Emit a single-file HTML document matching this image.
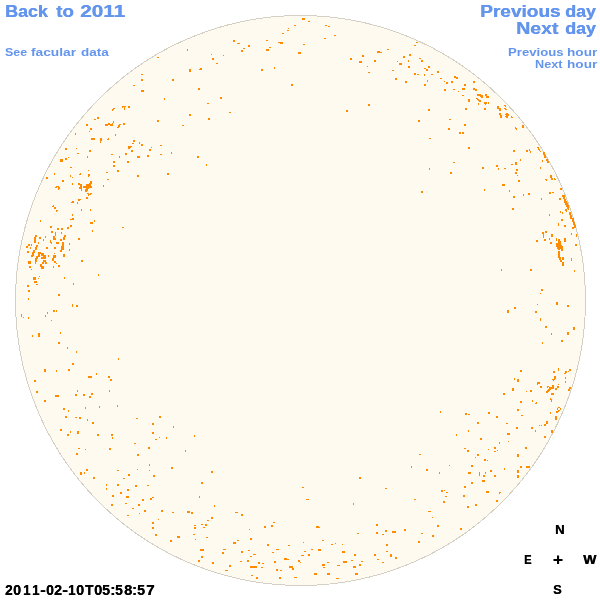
<!DOCTYPE html>
<html><head><meta charset="utf-8"><title>Faculae 2011-02-10T05:58:57</title>
<style>
html,body{margin:0;padding:0;background:#fff;}
body{width:600px;height:600px;position:relative;overflow:hidden;font-family:"Liberation Sans",sans-serif;font-weight:bold;}
svg{position:absolute;left:0;top:0;}
.t{position:absolute;white-space:nowrap;line-height:1;margin:0;padding:0;transform-origin:0 0;}
#txt{position:absolute;left:0;top:0;width:600px;height:600px;will-change:transform;}
.b{color:#6495ed;}
.L{text-shadow:0.4px 0 0 #6495ed;}
.k{color:#000;text-shadow:0.35px 0 0 #000;}
</style></head><body>
<svg width="600" height="600" viewBox="0 0 600 600">
<circle cx="300.5" cy="300.5" r="285" fill="#fefaef" stroke="#d4d0c6" stroke-width="1" shape-rendering="crispEdges"/>
<g fill="#ff8c00" shape-rendering="crispEdges">
<rect x="97" y="117" width="2" height="2"/><rect x="94" y="119" width="2" height="1"/><rect x="86" y="124" width="2" height="2"/><rect x="90" y="128" width="2" height="2"/><rect x="89" y="131" width="1" height="1"/><rect x="75" y="133" width="1" height="2"/><rect x="91" y="138" width="4" height="2"/><rect x="65" y="148" width="2" height="2"/>
<rect x="76" y="148" width="1" height="1"/><rect x="77" y="153" width="2" height="1"/><rect x="89" y="150" width="2" height="2"/><rect x="87" y="156" width="1" height="2"/><rect x="60" y="159" width="3" height="3"/><rect x="65" y="158" width="2" height="2"/><rect x="68" y="157" width="1" height="1"/><rect x="70" y="167" width="2" height="1"/>
<rect x="46" y="177" width="2" height="2"/><rect x="189" y="114" width="2" height="2"/><rect x="157" y="120" width="2" height="2"/><rect x="182" y="125" width="2" height="1"/><rect x="131" y="150" width="2" height="2"/><rect x="149" y="149" width="2" height="2"/><rect x="151" y="147" width="1" height="1"/><rect x="160" y="145" width="2" height="1"/>
<rect x="160" y="154" width="2" height="1"/><rect x="171" y="152" width="1" height="2"/><rect x="197" y="156" width="2" height="2"/><rect x="111" y="154" width="2" height="1"/><rect x="119" y="156" width="1" height="2"/><rect x="125" y="153" width="2" height="2"/><rect x="137" y="156" width="3" height="2"/><rect x="147" y="155" width="2" height="2"/>
<rect x="113" y="161" width="2" height="2"/><rect x="127" y="161" width="2" height="2"/><rect x="113" y="165" width="2" height="2"/><rect x="117" y="170" width="2" height="2"/><rect x="106" y="172" width="2" height="1"/><rect x="137" y="175" width="2" height="2"/><rect x="167" y="173" width="2" height="2"/><rect x="107" y="179" width="2" height="1"/>
<rect x="103" y="185" width="1" height="2"/><rect x="187" y="49" width="1" height="2"/><rect x="157" y="57" width="2" height="1"/><rect x="189" y="69" width="2" height="3"/><rect x="199" y="69" width="1" height="1"/><rect x="141" y="74" width="2" height="1"/><rect x="141" y="79" width="2" height="2"/><rect x="172" y="79" width="2" height="2"/>
<rect x="133" y="85" width="2" height="1"/><rect x="141" y="90" width="3" height="2"/><rect x="198" y="88" width="2" height="2"/><rect x="164" y="98" width="1" height="2"/><rect x="294" y="25" width="2" height="1"/><rect x="288" y="28" width="1" height="1"/><rect x="287" y="30" width="2" height="1"/><rect x="282" y="33" width="2" height="1"/>
<rect x="233" y="40" width="2" height="2"/><rect x="237" y="43" width="3" height="1"/><rect x="266" y="40" width="2" height="1"/><rect x="278" y="42" width="2" height="1"/><rect x="280" y="42" width="3" height="2"/><rect x="248" y="45" width="2" height="2"/><rect x="243" y="48" width="2" height="1"/><rect x="269" y="47" width="2" height="1"/>
<rect x="241" y="50" width="2" height="2"/><rect x="266" y="49" width="3" height="2"/><rect x="298" y="52" width="2" height="2"/><rect x="211" y="54" width="1" height="1"/><rect x="223" y="55" width="1" height="1"/><rect x="212" y="58" width="2" height="2"/><rect x="216" y="63" width="2" height="1"/><rect x="200" y="68" width="2" height="2"/>
<rect x="274" y="67" width="1" height="2"/><rect x="261" y="69" width="2" height="2"/><rect x="291" y="84" width="2" height="2"/><rect x="220" y="97" width="2" height="2"/><rect x="302" y="18" width="3" height="2"/><rect x="308" y="21" width="2" height="1"/><rect x="325" y="25" width="2" height="1"/><rect x="328" y="26" width="2" height="1"/>
<rect x="334" y="35" width="2" height="1"/><rect x="324" y="38" width="2" height="1"/><rect x="303" y="44" width="2" height="1"/><rect x="300" y="52" width="1" height="2"/><rect x="387" y="49" width="2" height="1"/><rect x="377" y="51" width="3" height="2"/><rect x="380" y="52" width="2" height="1"/><rect x="362" y="55" width="2" height="2"/>
<rect x="350" y="58" width="2" height="2"/><rect x="359" y="61" width="3" height="2"/><rect x="374" y="60" width="2" height="2"/><rect x="397" y="61" width="1" height="1"/><rect x="399" y="63" width="1" height="2"/><rect x="367" y="66" width="1" height="1"/><rect x="368" y="72" width="2" height="1"/><rect x="392" y="70" width="2" height="1"/>
<rect x="395" y="78" width="2" height="2"/><rect x="416" y="42" width="2" height="1"/><rect x="414" y="45" width="2" height="1"/><rect x="409" y="54" width="2" height="2"/><rect x="403" y="56" width="2" height="2"/><rect x="419" y="58" width="2" height="1"/><rect x="408" y="60" width="1" height="2"/><rect x="421" y="60" width="2" height="2"/>
<rect x="400" y="63" width="2" height="2"/><rect x="408" y="66" width="2" height="2"/><rect x="428" y="66" width="2" height="2"/><rect x="424" y="68" width="2" height="1"/><rect x="426" y="69" width="2" height="2"/><rect x="437" y="71" width="2" height="2"/><rect x="414" y="73" width="2" height="2"/><rect x="417" y="74" width="2" height="1"/>
<rect x="424" y="74" width="1" height="2"/><rect x="431" y="74" width="2" height="1"/><rect x="440" y="78" width="2" height="1"/><rect x="454" y="76" width="2" height="2"/><rect x="456" y="77" width="2" height="2"/><rect x="405" y="81" width="2" height="2"/><rect x="427" y="80" width="1" height="2"/><rect x="424" y="84" width="2" height="2"/>
<rect x="444" y="81" width="1" height="1"/><rect x="446" y="82" width="2" height="2"/><rect x="451" y="81" width="2" height="2"/><rect x="464" y="84" width="2" height="2"/><rect x="462" y="88" width="3" height="2"/><rect x="453" y="89" width="2" height="1"/><rect x="444" y="89" width="2" height="2"/><rect x="458" y="91" width="1" height="1"/>
<rect x="462" y="95" width="2" height="1"/><rect x="468" y="99" width="2" height="1"/><rect x="468" y="100" width="2" height="2"/><rect x="465" y="108" width="2" height="2"/><rect x="428" y="109" width="2" height="2"/><rect x="418" y="120" width="2" height="2"/><rect x="449" y="119" width="2" height="1"/><rect x="464" y="124" width="2" height="2"/>
<rect x="448" y="128" width="2" height="2"/><rect x="459" y="132" width="2" height="2"/><rect x="462" y="132" width="2" height="2"/><rect x="429" y="138" width="2" height="1"/><rect x="468" y="147" width="2" height="2"/><rect x="453" y="162" width="2" height="1"/><rect x="429" y="168" width="1" height="2"/><rect x="450" y="172" width="2" height="2"/>
<rect x="482" y="167" width="2" height="2"/><rect x="496" y="165" width="2" height="2"/><rect x="498" y="168" width="1" height="2"/><rect x="421" y="191" width="2" height="2"/><rect x="484" y="189" width="1" height="2"/><rect x="522" y="125" width="2" height="3"/><rect x="513" y="150" width="2" height="2"/><rect x="515" y="162" width="2" height="3"/>
<rect x="511" y="164" width="2" height="1"/><rect x="504" y="168" width="2" height="1"/><rect x="516" y="169" width="2" height="2"/><rect x="515" y="172" width="2" height="2"/><rect x="517" y="175" width="1" height="1"/><rect x="518" y="180" width="2" height="2"/><rect x="502" y="184" width="3" height="2"/><rect x="509" y="190" width="1" height="2"/>
<rect x="560" y="188" width="2" height="2"/><rect x="549" y="192" width="2" height="2"/><rect x="552" y="192" width="2" height="1"/><rect x="513" y="196" width="2" height="2"/><rect x="523" y="194" width="1" height="2"/><rect x="528" y="193" width="2" height="2"/><rect x="559" y="198" width="2" height="2"/><rect x="541" y="198" width="1" height="2"/>
<rect x="560" y="211" width="1" height="2"/><rect x="562" y="212" width="1" height="2"/><rect x="549" y="214" width="1" height="2"/><rect x="569" y="212" width="2" height="3"/><rect x="570" y="215" width="2" height="4"/><rect x="572" y="218" width="2" height="4"/><rect x="573" y="222" width="2" height="3"/><rect x="574" y="225" width="2" height="3"/>
<rect x="572" y="227" width="2" height="2"/><rect x="561" y="219" width="2" height="2"/><rect x="558" y="223" width="1" height="3"/><rect x="564" y="225" width="2" height="2"/><rect x="571" y="233" width="1" height="2"/><rect x="576" y="234" width="1" height="3"/><rect x="545" y="231" width="2" height="2"/><rect x="542" y="232" width="2" height="2"/>
<rect x="543" y="234" width="1" height="4"/><rect x="551" y="234" width="2" height="3"/><rect x="544" y="239" width="2" height="2"/><rect x="549" y="238" width="1" height="2"/><rect x="550" y="242" width="2" height="2"/><rect x="556" y="238" width="1" height="3"/><rect x="558" y="239" width="2" height="4"/><rect x="558" y="241" width="3" height="4"/>
<rect x="556" y="243" width="3" height="4"/><rect x="557" y="245" width="5" height="4"/><rect x="561" y="246" width="2" height="3"/><rect x="558" y="248" width="2" height="2"/><rect x="561" y="249" width="2" height="2"/><rect x="558" y="251" width="2" height="7"/><rect x="559" y="257" width="2" height="3"/><rect x="560" y="260" width="2" height="2"/>
<rect x="562" y="257" width="2" height="3"/><rect x="562" y="262" width="2" height="4"/><rect x="564" y="238" width="2" height="4"/><rect x="576" y="235" width="1" height="2"/><rect x="575" y="244" width="2" height="2"/><rect x="571" y="258" width="1" height="3"/><rect x="574" y="270" width="1" height="2"/><rect x="512" y="208" width="2" height="2"/>
<rect x="536" y="240" width="2" height="2"/><rect x="501" y="269" width="1" height="2"/><rect x="530" y="269" width="2" height="2"/><rect x="541" y="289" width="2" height="2"/><rect x="540" y="293" width="1" height="1"/><rect x="537" y="304" width="1" height="1"/><rect x="556" y="302" width="2" height="3"/><rect x="567" y="305" width="2" height="2"/>
<rect x="514" y="307" width="2" height="2"/><rect x="507" y="310" width="2" height="3"/><rect x="535" y="311" width="2" height="2"/><rect x="540" y="318" width="1" height="3"/><rect x="545" y="326" width="2" height="2"/><rect x="573" y="327" width="2" height="3"/><rect x="551" y="333" width="1" height="2"/><rect x="567" y="332" width="2" height="3"/>
<rect x="561" y="340" width="2" height="2"/><rect x="542" y="342" width="1" height="2"/><rect x="520" y="370" width="2" height="2"/><rect x="514" y="378" width="1" height="2"/><rect x="517" y="379" width="2" height="3"/><rect x="512" y="388" width="2" height="3"/><rect x="526" y="391" width="1" height="1"/><rect x="530" y="390" width="2" height="2"/>
<rect x="503" y="393" width="2" height="2"/><rect x="520" y="401" width="2" height="2"/><rect x="532" y="400" width="1" height="2"/><rect x="517" y="409" width="2" height="2"/><rect x="521" y="415" width="2" height="1"/><rect x="555" y="416" width="2" height="4"/><rect x="506" y="423" width="2" height="1"/><rect x="546" y="421" width="2" height="3"/>
<rect x="544" y="424" width="2" height="2"/><rect x="539" y="425" width="1" height="1"/><rect x="541" y="425" width="1" height="1"/><rect x="516" y="427" width="2" height="2"/><rect x="531" y="427" width="2" height="2"/><rect x="535" y="430" width="1" height="2"/><rect x="551" y="430" width="2" height="3"/><rect x="507" y="433" width="3" height="2"/>
<rect x="544" y="436" width="2" height="2"/><rect x="508" y="441" width="1" height="1"/><rect x="525" y="447" width="2" height="2"/><rect x="517" y="454" width="2" height="3"/><rect x="504" y="468" width="1" height="2"/><rect x="520" y="466" width="2" height="2"/><rect x="526" y="466" width="4" height="2"/><rect x="517" y="470" width="2" height="3"/>
<rect x="517" y="475" width="2" height="3"/><rect x="500" y="492" width="1" height="1"/><rect x="440" y="411" width="1" height="2"/><rect x="465" y="413" width="2" height="2"/><rect x="468" y="414" width="2" height="1"/><rect x="488" y="412" width="2" height="2"/><rect x="496" y="416" width="2" height="2"/><rect x="477" y="422" width="2" height="2"/>
<rect x="468" y="430" width="1" height="2"/><rect x="456" y="434" width="1" height="2"/><rect x="480" y="438" width="2" height="2"/><rect x="499" y="442" width="1" height="2"/><rect x="464" y="448" width="2" height="1"/><rect x="467" y="450" width="2" height="2"/><rect x="494" y="447" width="2" height="2"/><rect x="488" y="449" width="1" height="1"/>
<rect x="494" y="451" width="2" height="1"/><rect x="497" y="450" width="1" height="1"/><rect x="419" y="454" width="2" height="1"/><rect x="477" y="454" width="2" height="2"/><rect x="475" y="457" width="1" height="1"/><rect x="484" y="459" width="2" height="2"/><rect x="487" y="460" width="1" height="1"/><rect x="449" y="465" width="1" height="1"/>
<rect x="411" y="466" width="1" height="2"/><rect x="471" y="465" width="2" height="2"/><rect x="426" y="469" width="2" height="2"/><rect x="439" y="472" width="1" height="2"/><rect x="468" y="472" width="3" height="2"/><rect x="490" y="470" width="2" height="2"/><rect x="479" y="472" width="1" height="4"/><rect x="485" y="472" width="1" height="2"/>
<rect x="483" y="475" width="2" height="2"/><rect x="494" y="475" width="2" height="2"/><rect x="471" y="482" width="2" height="2"/><rect x="482" y="480" width="3" height="2"/><rect x="464" y="486" width="2" height="2"/><rect x="441" y="490" width="2" height="2"/><rect x="444" y="490" width="1" height="1"/><rect x="446" y="492" width="2" height="1"/>
<rect x="486" y="491" width="3" height="2"/><rect x="499" y="492" width="1" height="2"/><rect x="445" y="496" width="2" height="1"/><rect x="463" y="495" width="2" height="2"/><rect x="414" y="499" width="2" height="1"/><rect x="207" y="103" width="2" height="1"/><rect x="229" y="112" width="2" height="1"/><rect x="208" y="118" width="2" height="2"/>
<rect x="206" y="164" width="1" height="2"/><rect x="368" y="104" width="2" height="2"/><rect x="346" y="110" width="2" height="2"/><rect x="40" y="220" width="1" height="2"/><rect x="50" y="226" width="2" height="2"/><rect x="67" y="227" width="2" height="2"/><rect x="61" y="228" width="2" height="2"/><rect x="57" y="228" width="2" height="2"/>
<rect x="51" y="231" width="2" height="2"/><rect x="61" y="232" width="1" height="2"/><rect x="55" y="232" width="1" height="4"/><rect x="53" y="236" width="2" height="4"/><rect x="55" y="238" width="1" height="2"/><rect x="35" y="235" width="2" height="2"/><rect x="34" y="237" width="2" height="6"/><rect x="39" y="237" width="2" height="2"/>
<rect x="45" y="236" width="1" height="2"/><rect x="43" y="239" width="1" height="2"/><rect x="38" y="242" width="1" height="2"/><rect x="64" y="235" width="2" height="2"/><rect x="63" y="237" width="2" height="3"/><rect x="60" y="239" width="2" height="2"/><rect x="50" y="240" width="1" height="3"/><rect x="51" y="242" width="1" height="2"/>
<rect x="56" y="242" width="3" height="2"/><rect x="62" y="242" width="2" height="4"/><rect x="69" y="243" width="1" height="2"/><rect x="61" y="246" width="3" height="4"/><rect x="60" y="250" width="2" height="2"/><rect x="69" y="249" width="1" height="2"/><rect x="28" y="244" width="2" height="2"/><rect x="26" y="246" width="2" height="2"/>
<rect x="31" y="244" width="1" height="2"/><rect x="30" y="247" width="1" height="2"/><rect x="27" y="251" width="2" height="2"/><rect x="36" y="245" width="2" height="2"/><rect x="35" y="247" width="2" height="3"/><rect x="33" y="250" width="2" height="3"/><rect x="32" y="252" width="2" height="4"/><rect x="31" y="255" width="2" height="2"/>
<rect x="46" y="247" width="2" height="2"/><rect x="54" y="247" width="2" height="2"/><rect x="54" y="253" width="1" height="1"/><rect x="63" y="254" width="2" height="3"/><rect x="48" y="255" width="1" height="2"/><rect x="38" y="252" width="3" height="2"/><rect x="38" y="254" width="2" height="3"/><rect x="36" y="256" width="2" height="3"/>
<rect x="35" y="258" width="2" height="4"/><rect x="35" y="262" width="1" height="2"/><rect x="41" y="253" width="3" height="3"/><rect x="43" y="255" width="3" height="4"/><rect x="41" y="257" width="2" height="2"/><rect x="43" y="260" width="3" height="2"/><rect x="42" y="262" width="2" height="2"/><rect x="45" y="262" width="2" height="2"/>
<rect x="40" y="264" width="2" height="2"/><rect x="53" y="255" width="3" height="3"/><rect x="52" y="258" width="2" height="3"/><rect x="54" y="261" width="2" height="2"/><rect x="56" y="263" width="1" height="1"/><rect x="28" y="261" width="3" height="3"/><rect x="29" y="266" width="2" height="2"/><rect x="41" y="266" width="3" height="3"/>
<rect x="40" y="265" width="2" height="2"/><rect x="53" y="266" width="1" height="2"/><rect x="58" y="265" width="2" height="2"/><rect x="31" y="269" width="1" height="1"/><rect x="94" y="220" width="1" height="2"/><rect x="90" y="222" width="3" height="2"/><rect x="70" y="225" width="2" height="2"/><rect x="92" y="230" width="1" height="2"/>
<rect x="78" y="238" width="2" height="2"/><rect x="81" y="260" width="2" height="2"/><rect x="98" y="274" width="1" height="2"/><rect x="64" y="277" width="1" height="2"/><rect x="73" y="283" width="1" height="2"/><rect x="33" y="277" width="3" height="3"/><rect x="38" y="278" width="1" height="1"/><rect x="39" y="276" width="1" height="1"/>
<rect x="34" y="281" width="3" height="2"/><rect x="36" y="284" width="2" height="1"/><rect x="27" y="285" width="2" height="2"/><rect x="28" y="290" width="2" height="2"/><rect x="58" y="294" width="2" height="2"/><rect x="28" y="298" width="1" height="2"/><rect x="72" y="304" width="1" height="3"/><rect x="76" y="305" width="2" height="2"/>
<rect x="53" y="310" width="2" height="2"/><rect x="56" y="310" width="1" height="2"/><rect x="47" y="312" width="1" height="2"/><rect x="45" y="315" width="1" height="2"/><rect x="21" y="314" width="1" height="3"/><rect x="23" y="317" width="1" height="1"/><rect x="28" y="317" width="1" height="2"/><rect x="51" y="320" width="1" height="1"/>
<rect x="60" y="332" width="1" height="2"/><rect x="38" y="333" width="2" height="4"/><rect x="32" y="335" width="1" height="2"/><rect x="58" y="342" width="2" height="2"/><rect x="67" y="347" width="1" height="2"/><rect x="76" y="351" width="1" height="2"/><rect x="72" y="363" width="2" height="2"/><rect x="44" y="369" width="2" height="3"/>
<rect x="56" y="370" width="1" height="2"/><rect x="68" y="369" width="2" height="2"/><rect x="96" y="373" width="1" height="2"/><rect x="88" y="376" width="4" height="2"/><rect x="34" y="380" width="2" height="2"/><rect x="36" y="391" width="2" height="2"/><rect x="77" y="390" width="1" height="2"/><rect x="91" y="393" width="2" height="2"/>
<rect x="55" y="395" width="4" height="2"/><rect x="75" y="394" width="2" height="2"/><rect x="83" y="394" width="2" height="2"/><rect x="89" y="396" width="2" height="2"/><rect x="44" y="400" width="2" height="2"/><rect x="63" y="408" width="2" height="2"/><rect x="68" y="410" width="1" height="2"/><rect x="85" y="407" width="1" height="2"/>
<rect x="99" y="406" width="1" height="2"/><rect x="65" y="416" width="2" height="2"/><rect x="75" y="417" width="2" height="1"/><rect x="79" y="417" width="2" height="2"/><rect x="87" y="419" width="1" height="2"/><rect x="92" y="422" width="2" height="2"/><rect x="60" y="429" width="2" height="2"/><rect x="70" y="431" width="1" height="2"/>
<rect x="67" y="434" width="2" height="2"/><rect x="77" y="431" width="2" height="3"/><rect x="97" y="434" width="2" height="2"/><rect x="78" y="448" width="2" height="1"/><rect x="85" y="449" width="1" height="1"/><rect x="76" y="453" width="2" height="2"/><rect x="86" y="469" width="2" height="2"/><rect x="80" y="472" width="2" height="3"/>
<rect x="84" y="472" width="1" height="2"/><rect x="93" y="477" width="2" height="2"/><rect x="117" y="405" width="1" height="2"/><rect x="136" y="418" width="2" height="1"/><rect x="159" y="416" width="2" height="2"/><rect x="152" y="423" width="2" height="2"/><rect x="173" y="426" width="1" height="2"/><rect x="152" y="432" width="2" height="2"/>
<rect x="111" y="434" width="2" height="2"/><rect x="112" y="437" width="1" height="2"/><rect x="194" y="435" width="1" height="2"/><rect x="159" y="437" width="1" height="1"/><rect x="155" y="439" width="2" height="1"/><rect x="166" y="437" width="1" height="2"/><rect x="134" y="443" width="2" height="1"/><rect x="148" y="447" width="2" height="2"/>
<rect x="109" y="448" width="2" height="2"/><rect x="185" y="450" width="1" height="2"/><rect x="137" y="454" width="2" height="2"/><rect x="149" y="464" width="1" height="2"/><rect x="171" y="467" width="2" height="2"/><rect x="137" y="469" width="1" height="1"/><rect x="149" y="470" width="1" height="1"/><rect x="117" y="470" width="2" height="1"/>
<rect x="128" y="474" width="2" height="2"/><rect x="153" y="475" width="2" height="2"/><rect x="123" y="478" width="2" height="1"/><rect x="106" y="484" width="1" height="2"/><rect x="117" y="484" width="2" height="2"/><rect x="135" y="485" width="2" height="2"/><rect x="147" y="485" width="2" height="1"/><rect x="106" y="488" width="1" height="2"/>
<rect x="127" y="489" width="2" height="2"/><rect x="120" y="492" width="2" height="2"/><rect x="112" y="495" width="2" height="2"/><rect x="126" y="496" width="3" height="2"/><rect x="152" y="497" width="2" height="1"/><rect x="150" y="498" width="2" height="2"/><rect x="142" y="499" width="2" height="1"/><rect x="199" y="496" width="1" height="2"/>
<rect x="142" y="500" width="2" height="1"/><rect x="111" y="504" width="2" height="2"/><rect x="125" y="503" width="2" height="1"/><rect x="138" y="504" width="2" height="2"/><rect x="132" y="508" width="2" height="1"/><rect x="144" y="510" width="2" height="2"/><rect x="161" y="510" width="2" height="2"/><rect x="139" y="513" width="1" height="1"/>
<rect x="172" y="512" width="2" height="1"/><rect x="187" y="511" width="3" height="2"/><rect x="191" y="512" width="2" height="2"/><rect x="127" y="515" width="2" height="1"/><rect x="158" y="519" width="1" height="1"/><rect x="152" y="522" width="2" height="2"/><rect x="152" y="527" width="2" height="2"/><rect x="194" y="525" width="2" height="1"/>
<rect x="194" y="527" width="2" height="2"/><rect x="155" y="534" width="2" height="2"/><rect x="193" y="534" width="2" height="1"/><rect x="177" y="536" width="3" height="2"/><rect x="195" y="539" width="1" height="1"/><rect x="170" y="540" width="2" height="2"/><rect x="198" y="560" width="2" height="2"/><rect x="214" y="505" width="1" height="2"/>
<rect x="235" y="512" width="3" height="1"/><rect x="241" y="514" width="2" height="2"/><rect x="211" y="517" width="2" height="2"/><rect x="207" y="520" width="2" height="1"/><rect x="273" y="522" width="2" height="1"/><rect x="201" y="524" width="2" height="1"/><rect x="205" y="524" width="2" height="2"/><rect x="203" y="527" width="2" height="1"/>
<rect x="271" y="525" width="2" height="2"/><rect x="264" y="526" width="2" height="2"/><rect x="249" y="529" width="1" height="1"/><rect x="206" y="537" width="2" height="1"/><rect x="250" y="538" width="2" height="2"/><rect x="237" y="540" width="2" height="1"/><rect x="233" y="542" width="3" height="2"/><rect x="267" y="544" width="2" height="2"/>
<rect x="288" y="545" width="2" height="1"/><rect x="200" y="549" width="4" height="2"/><rect x="223" y="549" width="3" height="1"/><rect x="248" y="550" width="2" height="1"/><rect x="276" y="549" width="3" height="1"/><rect x="241" y="551" width="2" height="2"/><rect x="272" y="552" width="2" height="1"/><rect x="222" y="552" width="2" height="2"/>
<rect x="253" y="554" width="3" height="1"/><rect x="201" y="556" width="2" height="2"/><rect x="250" y="556" width="2" height="1"/><rect x="284" y="558" width="3" height="2"/><rect x="287" y="559" width="2" height="1"/><rect x="240" y="561" width="2" height="1"/><rect x="247" y="560" width="2" height="2"/><rect x="274" y="561" width="2" height="2"/>
<rect x="298" y="560" width="2" height="2"/><rect x="212" y="562" width="2" height="2"/><rect x="258" y="562" width="2" height="2"/><rect x="262" y="563" width="2" height="1"/><rect x="229" y="565" width="2" height="2"/><rect x="250" y="566" width="7" height="2"/><rect x="261" y="567" width="2" height="1"/><rect x="289" y="566" width="4" height="2"/>
<rect x="292" y="568" width="2" height="2"/><rect x="225" y="570" width="3" height="1"/><rect x="276" y="569" width="2" height="2"/><rect x="280" y="570" width="2" height="1"/><rect x="251" y="575" width="2" height="1"/><rect x="256" y="577" width="2" height="2"/><rect x="279" y="577" width="2" height="2"/><rect x="294" y="577" width="3" height="1"/>
<rect x="353" y="503" width="1" height="2"/><rect x="376" y="524" width="2" height="2"/><rect x="316" y="526" width="3" height="2"/><rect x="319" y="527" width="1" height="1"/><rect x="385" y="530" width="2" height="2"/><rect x="392" y="531" width="4" height="2"/><rect x="376" y="532" width="2" height="2"/><rect x="357" y="533" width="2" height="1"/>
<rect x="382" y="534" width="2" height="1"/><rect x="322" y="540" width="2" height="1"/><rect x="303" y="542" width="1" height="1"/><rect x="331" y="544" width="2" height="1"/><rect x="335" y="543" width="1" height="1"/><rect x="342" y="544" width="1" height="1"/><rect x="386" y="544" width="2" height="2"/><rect x="311" y="549" width="2" height="1"/>
<rect x="318" y="549" width="3" height="2"/><rect x="304" y="551" width="2" height="1"/><rect x="386" y="551" width="2" height="1"/><rect x="342" y="551" width="3" height="2"/><rect x="308" y="554" width="2" height="2"/><rect x="354" y="554" width="2" height="2"/><rect x="374" y="554" width="2" height="2"/><rect x="301" y="555" width="3" height="1"/>
<rect x="390" y="554" width="2" height="3"/><rect x="395" y="557" width="2" height="2"/><rect x="377" y="559" width="2" height="1"/><rect x="351" y="560" width="2" height="1"/><rect x="300" y="562" width="1" height="1"/><rect x="327" y="562" width="2" height="1"/><rect x="343" y="561" width="4" height="2"/><rect x="361" y="561" width="2" height="1"/>
<rect x="382" y="562" width="2" height="1"/><rect x="322" y="564" width="3" height="2"/><rect x="337" y="565" width="3" height="1"/><rect x="359" y="564" width="2" height="2"/><rect x="353" y="566" width="3" height="2"/><rect x="323" y="567" width="2" height="1"/><rect x="314" y="573" width="3" height="2"/><rect x="327" y="573" width="3" height="2"/>
<rect x="355" y="573" width="3" height="2"/><rect x="336" y="578" width="3" height="1"/><rect x="443" y="501" width="2" height="2"/><rect x="475" y="504" width="2" height="2"/><rect x="467" y="506" width="2" height="2"/><rect x="496" y="500" width="2" height="2"/><rect x="428" y="511" width="3" height="1"/><rect x="432" y="517" width="1" height="1"/>
<rect x="437" y="525" width="2" height="2"/><rect x="460" y="528" width="2" height="2"/><rect x="404" y="529" width="2" height="2"/><rect x="421" y="533" width="2" height="1"/><rect x="432" y="535" width="2" height="2"/><rect x="418" y="541" width="2" height="2"/><rect x="122" y="227" width="2" height="1"/><rect x="118" y="358" width="1" height="2"/>
<rect x="108" y="376" width="2" height="2"/><rect x="110" y="379" width="2" height="2"/><rect x="109" y="390" width="1" height="2"/><rect x="211" y="471" width="2" height="2"/><rect x="201" y="482" width="2" height="2"/><rect x="359" y="477" width="2" height="2"/><rect x="302" y="487" width="2" height="1"/><rect x="385" y="488" width="2" height="1"/>
<rect x="306" y="499" width="3" height="1"/><rect x="54" y="173" width="1" height="2"/><rect x="70" y="175" width="1" height="2"/><rect x="72" y="177" width="1" height="1"/><rect x="80" y="173" width="1" height="1"/><rect x="79" y="174" width="2" height="1"/><rect x="88" y="170" width="1" height="1"/><rect x="88" y="174" width="2" height="2"/>
<rect x="88" y="176" width="1" height="1"/><rect x="62" y="180" width="2" height="2"/><rect x="72" y="183" width="1" height="2"/><rect x="56" y="186" width="3" height="1"/><rect x="55" y="187" width="2" height="1"/><rect x="58" y="187" width="2" height="2"/><rect x="58" y="189" width="1" height="1"/><rect x="78" y="183" width="2" height="2"/>
<rect x="80" y="184" width="2" height="3"/><rect x="79" y="187" width="3" height="2"/><rect x="81" y="189" width="1" height="2"/><rect x="86" y="184" width="5" height="2"/><rect x="83" y="186" width="9" height="2"/><rect x="90" y="181" width="2" height="3"/><rect x="89" y="183" width="2" height="1"/><rect x="86" y="188" width="3" height="1"/>
<rect x="85" y="189" width="3" height="2"/><rect x="85" y="191" width="2" height="1"/><rect x="87" y="193" width="2" height="1"/><rect x="88" y="194" width="2" height="1"/><rect x="90" y="193" width="2" height="1"/><rect x="90" y="194" width="1" height="1"/><rect x="88" y="195" width="1" height="1"/><rect x="86" y="197" width="2" height="2"/>
<rect x="78" y="199" width="3" height="1"/><rect x="78" y="200" width="2" height="1"/><rect x="77" y="202" width="1" height="2"/><rect x="72" y="201" width="2" height="1"/><rect x="71" y="202" width="3" height="1"/><rect x="53" y="205" width="1" height="1"/><rect x="52" y="206" width="2" height="1"/><rect x="54" y="207" width="2" height="2"/>
<rect x="56" y="210" width="2" height="1"/><rect x="56" y="211" width="1" height="1"/><rect x="81" y="209" width="1" height="2"/><rect x="90" y="209" width="1" height="2"/><rect x="72" y="214" width="1" height="2"/><rect x="72" y="218" width="2" height="1"/><rect x="70" y="219" width="4" height="1"/><rect x="558" y="368" width="1" height="3"/>
<rect x="553" y="371" width="2" height="2"/><rect x="569" y="369" width="2" height="2"/><rect x="568" y="371" width="1" height="1"/><rect x="565" y="371" width="2" height="2"/><rect x="564" y="373" width="2" height="1"/><rect x="565" y="377" width="1" height="2"/><rect x="565" y="381" width="1" height="2"/><rect x="554" y="376" width="2" height="3"/>
<rect x="552" y="379" width="3" height="1"/><rect x="553" y="380" width="1" height="1"/><rect x="537" y="382" width="3" height="2"/><rect x="537" y="384" width="1" height="1"/><rect x="540" y="386" width="2" height="2"/><rect x="547" y="386" width="2" height="1"/><rect x="547" y="387" width="1" height="1"/><rect x="558" y="384" width="1" height="1"/>
<rect x="552" y="385" width="2" height="4"/><rect x="549" y="387" width="3" height="2"/><rect x="548" y="389" width="3" height="1"/><rect x="547" y="390" width="3" height="1"/><rect x="546" y="391" width="3" height="1"/><rect x="546" y="392" width="2" height="1"/><rect x="557" y="386" width="2" height="2"/><rect x="555" y="388" width="2" height="2"/>
<rect x="551" y="393" width="3" height="2"/><rect x="550" y="398" width="1" height="2"/><rect x="551" y="399" width="1" height="3"/><rect x="536" y="402" width="1" height="1"/><rect x="535" y="403" width="2" height="1"/><rect x="569" y="387" width="2" height="2"/><rect x="568" y="389" width="2" height="2"/><rect x="558" y="407" width="2" height="1"/>
<rect x="557" y="408" width="1" height="2"/><rect x="560" y="408" width="1" height="2"/><rect x="558" y="410" width="2" height="1"/><rect x="556" y="411" width="2" height="2"/><rect x="558" y="411" width="1" height="1"/><rect x="550" y="412" width="1" height="2"/><rect x="473" y="81" width="2" height="2"/><rect x="473" y="88" width="2" height="2"/>
<rect x="475" y="89" width="2" height="2"/><rect x="477" y="94" width="4" height="2"/><rect x="480" y="95" width="3" height="2"/><rect x="481" y="97" width="2" height="1"/><rect x="485" y="94" width="2" height="2"/><rect x="486" y="96" width="3" height="2"/><rect x="476" y="98" width="2" height="1"/><rect x="477" y="99" width="2" height="1"/>
<rect x="478" y="100" width="3" height="1"/><rect x="479" y="101" width="2" height="1"/><rect x="478" y="103" width="1" height="2"/><rect x="484" y="102" width="3" height="2"/><rect x="485" y="104" width="1" height="1"/><rect x="488" y="102" width="1" height="2"/><rect x="484" y="108" width="2" height="2"/><rect x="497" y="106" width="2" height="3"/>
<rect x="499" y="108" width="2" height="3"/><rect x="504" y="105" width="2" height="1"/><rect x="505" y="106" width="1" height="1"/><rect x="504" y="108" width="2" height="1"/><rect x="505" y="109" width="2" height="1"/><rect x="499" y="113" width="2" height="2"/><rect x="500" y="115" width="2" height="2"/><rect x="500" y="117" width="2" height="1"/>
<rect x="506" y="113" width="2" height="1"/><rect x="505" y="114" width="4" height="1"/><rect x="506" y="115" width="3" height="1"/><rect x="505" y="116" width="3" height="1"/><rect x="506" y="117" width="2" height="1"/><rect x="511" y="116" width="1" height="1"/><rect x="511" y="117" width="2" height="1"/><rect x="515" y="127" width="1" height="2"/>
<rect x="516" y="128" width="1" height="2"/><rect x="537" y="147" width="2" height="1"/><rect x="538" y="148" width="1" height="2"/><rect x="539" y="149" width="1" height="2"/><rect x="540" y="151" width="1" height="1"/><rect x="543" y="152" width="2" height="3"/><rect x="544" y="155" width="2" height="3"/><rect x="546" y="159" width="2" height="2"/>
<rect x="547" y="161" width="2" height="2"/><rect x="529" y="149" width="1" height="2"/><rect x="530" y="151" width="1" height="2"/><rect x="526" y="150" width="2" height="2"/><rect x="520" y="159" width="1" height="2"/><rect x="542" y="160" width="1" height="2"/><rect x="540" y="167" width="1" height="2"/><rect x="550" y="175" width="2" height="3"/>
<rect x="551" y="178" width="2" height="2"/><rect x="554" y="178" width="1" height="1"/><rect x="554" y="179" width="2" height="1"/><rect x="545" y="179" width="2" height="1"/><rect x="546" y="180" width="1" height="1"/><rect x="562" y="195" width="3" height="2"/><rect x="563" y="197" width="2" height="2"/><rect x="564" y="199" width="2" height="2"/>
<rect x="564" y="201" width="3" height="2"/><rect x="565" y="203" width="3" height="2"/><rect x="566" y="205" width="3" height="2"/><rect x="567" y="207" width="2" height="2"/><rect x="568" y="209" width="1" height="1"/><rect x="565" y="209" width="2" height="2"/><rect x="566" y="211" width="1" height="1"/><rect x="113" y="108" width="2" height="1"/>
<rect x="112" y="109" width="2" height="1"/><rect x="112" y="110" width="1" height="1"/><rect x="122" y="106" width="4" height="1"/><rect x="124" y="107" width="1" height="3"/><rect x="122" y="107" width="1" height="1"/><rect x="128" y="106" width="2" height="2"/><rect x="113" y="121" width="1" height="2"/><rect x="105" y="124" width="3" height="2"/>
<rect x="108" y="123" width="2" height="2"/><rect x="110" y="124" width="3" height="2"/><rect x="112" y="123" width="1" height="1"/><rect x="119" y="124" width="2" height="1"/><rect x="118" y="125" width="2" height="2"/><rect x="117" y="127" width="2" height="1"/><rect x="123" y="123" width="2" height="2"/><rect x="115" y="134" width="1" height="2"/>
<rect x="108" y="138" width="1" height="1"/><rect x="107" y="139" width="2" height="1"/><rect x="100" y="138" width="2" height="3"/><rect x="100" y="141" width="1" height="2"/><rect x="133" y="140" width="2" height="2"/><rect x="132" y="143" width="2" height="1"/><rect x="139" y="142" width="1" height="2"/><rect x="141" y="144" width="2" height="2"/>
<rect x="128" y="146" width="4" height="1"/><rect x="128" y="147" width="3" height="1"/><rect x="128" y="148" width="2" height="1"/><rect x="149" y="149" width="1" height="1"/>
</g>
<rect x="553.5" y="559" width="9" height="2" fill="#000"/><rect x="557" y="555.5" width="2.1" height="8.5" fill="#000"/>
</svg>
<div id="txt">
<div class="t b L" id="a1" style="left:4.83px;top:4px;font-size:16px;transform:scaleX(1.1158);">Back</div>
<div class="t b L" id="a2" style="left:55.79px;top:4px;font-size:16px;transform:scaleX(1.1671);">to</div>
<div class="t b L" id="a3" style="left:80.31px;top:4px;font-size:16px;transform:scaleX(1.2952);">2011</div>
<div class="t b" id="b1" style="left:5.07px;top:47px;font-size:11px;transform:scaleX(1.1303);">See</div>
<div class="t b" id="b2" style="left:31.49px;top:47px;font-size:11px;transform:scaleX(1.2499);">facular</div>
<div class="t b" id="b3" style="left:80.72px;top:47px;font-size:11px;transform:scaleX(1.2250);">data</div>
<div class="t b L" id="c1" style="left:480.05px;top:4px;font-size:16px;transform:scaleX(1.1899);">Previous</div>
<div class="t b L" id="c2" style="left:564.58px;top:4px;font-size:16px;transform:scaleX(1.1167);">day</div>
<div class="t b L" id="d1" style="left:515.92px;top:21px;font-size:16px;transform:scaleX(1.2163);">Next</div>
<div class="t b L" id="d2" style="left:564.58px;top:21px;font-size:16px;transform:scaleX(1.1167);">day</div>
<div class="t b" id="e1" style="left:507.65px;top:47px;font-size:11px;transform:scaleX(1.1957);">Previous</div>
<div class="t b" id="e2" style="left:566.76px;top:47px;font-size:11px;transform:scaleX(1.2373);">hour</div>
<div class="t b" id="f1" style="left:534.70px;top:59px;font-size:11px;transform:scaleX(1.1497);">Next</div>
<div class="t b" id="f2" style="left:566.76px;top:59px;font-size:11px;transform:scaleX(1.2373);">hour</div>
<div class="t k" id="h00" style="left:5.07px;top:583px;font-size:14px;transform:scaleX(0.9760);">2</div>
<div class="t k" id="h01" style="left:13.20px;top:583px;font-size:14px;transform:scaleX(1.0281);">0</div>
<div class="t k" id="h02" style="left:22.79px;top:583px;font-size:14px;transform:scaleX(0.9633);">1</div>
<div class="t k" id="h03" style="left:31.89px;top:583px;font-size:14px;transform:scaleX(0.9633);">1</div>
<div class="t k" id="h04" style="left:39.99px;top:583px;font-size:14px;transform:scaleX(1.1763);">-</div>
<div class="t k" id="h05" style="left:45.67px;top:583px;font-size:14px;transform:scaleX(1.0047);">0</div>
<div class="t k" id="h06" style="left:53.94px;top:583px;font-size:14px;transform:scaleX(1.0222);">2</div>
<div class="t k" id="h07" style="left:61.96px;top:583px;font-size:14px;transform:scaleX(1.2343);">-</div>
<div class="t k" id="h08" style="left:67.89px;top:583px;font-size:14px;transform:scaleX(0.9633);">1</div>
<div class="t k" id="h09" style="left:76.45px;top:583px;font-size:14px;transform:scaleX(1.0359);">0</div>
<div class="t k" id="h10" style="left:84.78px;top:583px;font-size:14px;transform:scaleX(0.9789);">T</div>
<div class="t k" id="h11" style="left:93.54px;top:583px;font-size:14px;transform:scaleX(1.0515);">0</div>
<div class="t k" id="h12" style="left:101.99px;top:583px;font-size:14px;transform:scaleX(1.0227);">5</div>
<div class="t k" id="h13" style="left:110.35px;top:583px;font-size:14px;transform:scaleX(1.1031);">:</div>
<div class="t k" id="h14" style="left:115.41px;top:583px;font-size:14px;transform:scaleX(0.9928);">5</div>
<div class="t k" id="h15" style="left:124.48px;top:583px;font-size:14px;transform:scaleX(1.0599);">8</div>
<div class="t k" id="h16" style="left:132.42px;top:583px;font-size:14px;transform:scaleX(1.0518);">:</div>
<div class="t k" id="h17" style="left:137.39px;top:583px;font-size:14px;transform:scaleX(1.0227);">5</div>
<div class="t k" id="h18" style="left:146.39px;top:583px;font-size:14px;transform:scaleX(1.0729);">7</div>
<div class="t k" id="n1" style="left:554.75px;top:524px;font-size:12.5px;transform:scaleX(1.0500);">N</div>
<div class="t k" id="n2" style="left:523.85px;top:554px;font-size:12.5px;transform:scaleX(0.9013);">E</div>
<div class="t k" id="n4" style="left:582.62px;top:554px;font-size:12.5px;transform:scaleX(1.1195);">W</div>
<div class="t k" id="n5" style="left:552.81px;top:584px;font-size:12.5px;transform:scaleX(1.0404);">S</div>
</div>
</body></html>
